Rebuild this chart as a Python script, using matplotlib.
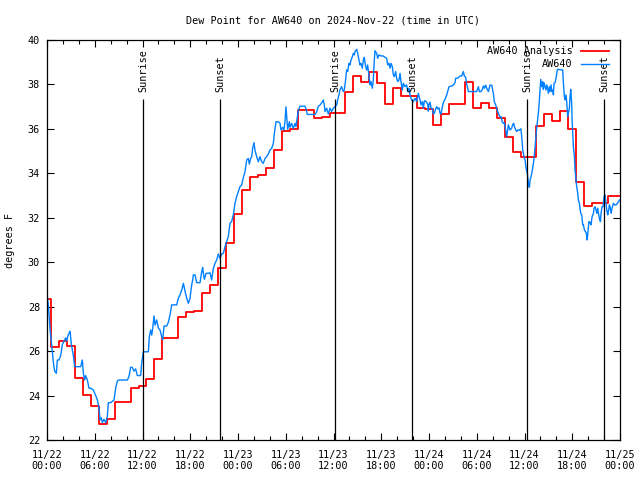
import matplotlib
matplotlib.use('Agg')
import matplotlib.pyplot as plt
from matplotlib.ticker import MultipleLocator

plt.rcParams['font.family'] = ['DejaVu Sans Mono']
FS = 7.3

title = "Dew Point for AW640 on 2024-Nov-22 (time in UTC)"
ylabel = "degrees F"
series_names = ["AW640 Analysis", "AW640"]

# hourly analysis values (hours since 11/22 00:00 UTC)
analysis_hours = list(range(73))
analysis_vals = [
    28.33, 26.2, 26.47, 26.25, 24.78, 24.03, 23.53, 22.72, 22.93, 23.71,
    23.71, 24.33, 24.43, 24.73, 25.65, 26.6, 26.6, 27.52, 27.75, 27.8,
    28.63, 28.96, 29.73, 30.88, 32.17, 33.25, 33.82, 33.93, 34.23, 35.05,
    35.9, 35.98, 36.85, 36.85, 36.5, 36.52, 36.73, 36.73, 37.68, 38.38,
    38.12, 38.55, 38.05, 37.12, 37.83, 37.5, 37.5, 36.93, 36.9, 36.16,
    36.67, 37.1, 37.1, 38.12, 36.96, 37.18, 36.96, 36.47, 35.65, 34.95,
    34.72, 34.72, 36.13, 36.67, 36.36, 36.8, 35.98, 33.6, 32.53, 32.65,
    32.65, 32.98, 32.98,
]

# station observations (hours since 11/22 00:00 UTC)
obs_hours = [
    0.0, 0.15, 0.27, 0.4, 0.54, 0.8, 0.96, 1.17, 1.3, 1.5, 1.72, 1.93, 2.14, 2.35, 2.47,
    2.64, 2.9, 3.06, 3.31, 3.48, 4.23, 4.44, 4.57, 4.73, 4.86, 5.07, 5.28, 5.49, 5.82,
    6.12, 6.33, 6.54, 6.66, 6.83, 6.95, 7.16, 7.37, 7.58, 7.71, 8.0, 8.42, 8.63, 8.84,
    9.05, 10.1, 10.3, 10.5, 10.7, 10.93, 11.14, 11.35, 11.77,
    11.9, 12.1, 12.74, 12.86, 13.03, 13.16, 13.28, 13.45, 13.58, 13.78, 14.0, 14.2, 14.41,
    14.54, 14.71, 15.04, 15.25, 15.46, 15.67, 16.3, 16.5, 16.72, 16.93, 17.14, 17.35,
    17.56, 17.76, 17.97, 18.18, 18.31, 18.39, 18.6, 18.81, 19.23, 19.44, 19.57, 19.65,
    19.78, 19.98, 20.3,
    20.48, 20.69, 20.9, 21.11, 21.32, 21.53, 21.74, 21.95, 22.16, 22.37, 22.57, 22.78,
    22.99, 23.2, 23.41, 23.62, 23.83, 24.04, 24.25, 24.46, 24.67, 24.88, 25.09, 25.3,
    25.42, 25.59, 25.72, 25.84, 26.01, 26.14, 26.35, 26.55, 26.76, 26.97, 27.18, 27.39,
    27.6, 27.81, 28.02, 28.23, 28.44, 28.57, 28.78, 29.07, 29.28, 29.4, 29.61, 29.78,
    29.9, 30.03, 30.12, 30.24, 30.45, 30.53, 30.74, 30.95, 31.16, 31.29, 31.46, 31.58,
    31.79, 32.42, 32.55, 32.71, 33.68, 33.89, 34.1, 34.3, 34.51, 34.72, 34.85,
    34.93, 35.14, 35.35, 35.56, 35.77, 35.98, 36.19, 36.4, 36.52, 36.69, 36.81, 37.02,
    37.23, 37.36, 37.53, 37.65, 37.78, 37.95, 38.07, 38.2, 38.37, 38.49, 38.62, 38.7,
    38.91, 39.04, 39.12, 39.33, 39.45, 39.62, 39.75, 39.87, 40.04, 40.17, 40.29, 40.46,
    40.59, 40.71, 40.88, 41.0, 41.13, 41.21, 41.42, 41.55, 41.72, 41.97, 42.26, 42.47,
    42.68, 42.81, 42.97, 43.1, 43.23, 43.39, 43.52, 43.64, 43.81, 43.94, 44.06, 44.23,
    44.36, 44.48, 44.65, 44.78, 44.98, 45.19, 45.32, 45.49, 45.61, 45.82, 46.03, 46.24,
    46.45, 46.66, 46.87, 47.0, 47.16, 47.29, 47.4,
    47.5, 47.71, 47.84, 47.92, 48.0, 48.13, 48.25, 48.42, 48.55, 48.67, 48.84, 48.97,
    49.1, 49.26, 49.39, 49.51, 49.68, 49.8, 50.01, 50.22, 50.35, 50.52, 50.85, 51.06,
    51.27, 51.35, 51.61, 51.9, 52.11, 52.32, 52.44, 52.61, 52.74, 52.95, 53.99, 54.2,
    54.33, 54.54, 54.71, 54.83, 54.96, 55.12, 55.25, 55.46, 55.67, 55.88, 56.09, 56.21,
    56.38, 56.51, 56.63, 56.8, 56.93, 57.05, 57.22, 57.35, 57.47, 57.64, 57.76, 57.89,
    57.97, 58.18, 58.39, 58.52, 58.64, 58.73, 58.9, 59.02, 59.15, 59.31,
    59.44, 59.55, 59.65, 59.78, 59.94, 60.07, 60.19, 60.36, 60.49, 60.61, 60.7, 60.82,
    60.95, 61.12, 61.24, 61.33, 61.45, 61.53, 61.74, 61.87, 61.95, 62.04, 62.16, 62.29,
    62.37, 62.46, 62.58, 62.71, 62.79, 62.92, 63.0, 63.13, 63.21, 63.34, 63.42, 63.55,
    63.63, 63.71, 63.84, 63.96, 64.05, 64.13, 64.8, 64.89, 65.01, 65.1, 65.22, 65.3,
    65.43, 65.51, 65.64, 65.72, 65.81, 65.93, 65.98, 66.06, 66.14, 66.27, 66.35, 66.48,
    66.56, 66.69, 66.77, 66.9, 66.98, 67.06, 67.19, 67.32, 67.4, 67.53, 67.65, 67.78,
    67.86, 67.94, 68.03, 68.11, 68.24, 68.36, 68.49, 68.66, 68.74, 68.87, 68.99, 69.08,
    69.2, 69.33, 69.41, 69.54, 69.62, 69.75, 69.87, 70.0, 70.12, 70.25, 70.33, 70.46,
    70.54, 70.67, 70.75, 70.88, 71.0, 71.17, 71.34, 71.5, 71.67, 71.84, 71.92,
]
obs_vals = [
    28.6, 28.1, 27.6, 26.9, 26.45, 25.5, 25.1, 25.0, 25.6, 25.6, 25.8, 26.3, 26.45, 26.6, 26.45,
    26.7, 26.9, 26.3, 25.8, 25.3, 25.3, 25.6, 25.0, 24.7, 24.9, 24.7, 24.33, 24.33, 24.25,
    24.0, 23.8, 23.42, 22.9, 23.0, 22.78, 22.93, 22.78, 23.05, 23.68, 23.68, 23.8, 24.33, 24.66,
    24.7, 24.7, 24.85, 25.27, 25.27, 25.1, 25.2, 24.9, 24.9,
    25.45, 25.97, 25.97, 26.65, 26.95, 26.72, 27.03, 27.58, 27.17, 27.4, 27.03, 26.95, 26.65,
    26.53, 27.13, 27.13, 27.3, 27.63, 28.08, 28.08, 28.38, 28.53, 28.75, 29.05, 28.68,
    28.38, 28.15, 28.38, 28.98, 29.2, 29.43, 29.43, 29.08, 29.08, 29.58, 29.77, 29.5,
    29.23, 29.5, 29.5,
    29.53, 29.2, 29.72, 29.95, 30.1, 30.37, 30.17, 30.37, 30.4, 30.7, 30.93, 31.15,
    31.75, 31.83, 32.12, 32.65, 32.95, 33.18, 33.4, 33.48, 33.82, 34.07, 34.6, 34.67,
    34.42, 34.67, 34.75, 35.12, 35.38, 35.02, 34.75, 34.52, 34.75, 34.52, 34.45, 34.67,
    34.75, 34.87, 35.05, 35.12, 35.35, 35.8, 36.32, 36.32, 36.25, 35.95, 36.07, 35.95,
    36.32, 36.99, 36.54, 35.98, 36.32, 36.07, 36.25, 36.02, 36.25, 36.1, 36.54, 36.84,
    37.02, 37.02, 36.9, 36.65, 36.65, 36.77, 37.02, 37.07, 37.17, 37.3, 37.07,
    36.78, 36.93, 36.67, 36.93, 36.78, 36.93, 37.0, 37.08, 37.3, 37.53, 37.75, 37.9,
    37.68, 37.75, 38.23, 38.65, 38.58, 38.95, 38.88, 39.1, 39.25, 39.4, 39.33, 39.48,
    39.58, 39.4, 39.25, 38.88, 38.95, 38.73, 39.1, 39.22, 38.8, 38.65, 38.88, 38.35,
    37.98, 38.13, 37.83, 38.2, 39.1, 39.52, 39.4, 39.18, 39.33, 39.28, 39.28, 39.22,
    39.18, 38.88, 38.95, 38.73, 38.95, 38.8, 38.43, 38.35, 38.58, 38.28, 38.13, 38.2,
    38.5, 38.13, 37.75, 38.05, 37.9, 37.98, 37.68, 37.83, 37.53, 37.3, 37.23, 37.38,
    37.23, 37.6, 37.3, 37.08, 37.23, 36.93, 37.23,
    37.27, 37.2, 37.1, 36.8, 37.1, 37.2, 36.95, 36.9, 36.67, 36.7, 36.9, 37.0,
    36.9, 36.95, 36.7, 36.67, 37.0, 37.18, 37.33, 37.52, 37.68, 37.9, 37.93, 37.97,
    38.08, 38.28, 38.28, 38.38, 38.38, 38.58, 38.38, 38.32, 38.02, 37.68, 37.68, 37.9,
    37.68, 37.68, 37.78, 37.93, 37.83, 37.97, 37.83, 37.68, 37.97, 37.97, 37.6, 37.22,
    37.08, 36.93, 36.78, 36.63, 36.53, 36.55, 36.3, 36.25, 36.28, 35.95, 35.65, 35.95,
    36.18, 35.95, 36.03, 36.2, 36.25, 36.1, 35.95, 35.88, 35.95, 35.93,
    35.98, 36.0, 35.65, 35.05, 34.75, 34.6, 34.23, 34.0, 33.55, 33.37, 33.7, 33.85,
    34.07, 34.45, 34.82, 35.2, 35.65, 36.03, 36.7, 37.3, 37.75, 38.23, 37.9, 38.13,
    37.78, 38.08, 37.9, 37.75, 37.98, 37.83, 37.6, 37.9, 37.68, 37.98, 37.68, 37.75,
    37.53, 38.05, 38.08, 38.28, 38.5, 38.68, 38.65, 38.05, 37.45, 37.3, 37.53, 37.23,
    36.55, 36.7, 36.93, 37.45, 37.78, 37.15, 36.4, 35.8, 35.2, 34.75, 34.15, 33.7,
    33.4, 33.1, 32.8, 32.65, 32.43, 32.2, 32.13, 31.68, 31.68, 31.45, 31.38, 31.3,
    31.0, 31.23, 31.6, 31.83, 31.78, 31.68, 32.05, 32.2, 32.43, 32.5, 32.35, 32.2,
    32.43, 32.13, 31.98, 31.83, 32.2, 32.5, 32.5, 32.95, 33.03, 32.65, 32.35, 32.13,
    32.28, 32.58, 32.5, 32.2, 32.43, 32.65, 32.58, 32.58, 32.65, 32.73, 32.8,
]

sun_event_hours = [12.1, 21.8, 36.2, 45.9, 60.3, 70.0]
sun_event_labels = ["Sunrise", "Sunset", "Sunrise", "Sunset", "Sunrise", "Sunset"]
sun_line_top = 37.35
sun_label_base = 37.65

xtick_hours = list(range(0, 73, 6))
xtick_labels = ["11/22\n00:00", "11/22\n06:00", "11/22\n12:00", "11/22\n18:00",
                "11/23\n00:00", "11/23\n06:00", "11/23\n12:00", "11/23\n18:00",
                "11/24\n00:00", "11/24\n06:00", "11/24\n12:00", "11/24\n18:00",
                "11/25\n00:00"]
ytick_vals = list(range(22, 41, 2))

fig = plt.figure(figsize=(6.4, 4.8), dpi=100)
ax = fig.add_axes([47/640, 40/480, 573/640, 400/480])

ax.plot(analysis_hours, analysis_vals, drawstyle='steps-mid', color='#ff0000', lw=1.3,
        label=series_names[0])
ax.plot(obs_hours, obs_vals, color='#0080ff', lw=1.0, label=series_names[1])

ax.vlines(sun_event_hours, 22, sun_line_top, color='black', lw=0.9)
for h, lab in zip(sun_event_hours, sun_event_labels):
    ax.text(h, sun_label_base, lab, rotation=90, ha='center', va='bottom', fontsize=FS)

ax.set_xlim(0, 72)
ax.set_ylim(22, 40)
ax.set_xticks(xtick_hours)
ax.set_xticklabels(xtick_labels, fontsize=FS)
ax.xaxis.set_minor_locator(MultipleLocator(2))
ax.set_yticks(ytick_vals)
ax.set_yticklabels([str(v) for v in ytick_vals], fontsize=FS)
ax.tick_params(which='major', direction='in', top=True, right=True, length=5, width=0.8, pad=5)
ax.tick_params(axis='x', which='major', pad=7)
ax.tick_params(which='minor', direction='in', top=True, right=True, length=3, width=0.8)
for s in ax.spines.values():
    s.set_linewidth(0.9)

ax.set_ylabel(ylabel, fontsize=FS, labelpad=9)
ax.set_title(title, fontsize=FS, pad=12)

ax.legend(loc='upper right', frameon=False, markerfirst=False, fontsize=FS,
          handlelength=2.8, handletextpad=0.8, labelspacing=0.3,
          borderaxespad=0.0, borderpad=0.6, bbox_to_anchor=(0.992, 1.0))

fig.savefig('out.png', dpi=100)
